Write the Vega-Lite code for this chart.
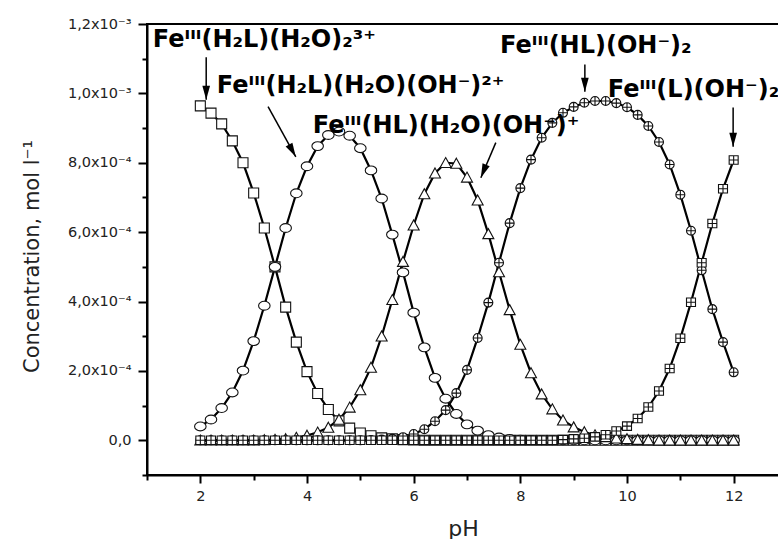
{
  "$schema": "https://vega.github.io/schema/vega-lite/v6.json",
  "width": 640,
  "height": 451,
  "autosize": {"type": "none"},
  "padding": {"left": 147, "top": 24, "right": 0, "bottom": 64},
  "background": "white",
  "config": {
    "view": {"stroke": "black", "strokeWidth": 2},
    "axis": {
      "grid": false,
      "domainColor": "black",
      "domainWidth": 2,
      "tickColor": "black",
      "tickWidth": 2,
      "labelFont": "DejaVu Sans",
      "labelFontSize": 14.5,
      "labelColor": "#222",
      "labelOverlap": false,
      "titleFont": "DejaVu Sans",
      "titleFontWeight": "normal",
      "titleColor": "#222"
    }
  },
  "datasets": {
    "conc": [
      {"pH": 2.0, "s": "A", "c": 9.64e-4}, {"pH": 2.2, "s": "A", "c": 9.43e-4}, {"pH": 2.4, "s": "A", "c": 9.12e-4},
      {"pH": 2.6, "s": "A", "c": 8.63e-4}, {"pH": 2.8, "s": "A", "c": 8.00e-4}, {"pH": 3.0, "s": "A", "c": 7.13e-4},
      {"pH": 3.2, "s": "A", "c": 6.12e-4}, {"pH": 3.4, "s": "A", "c": 5.00e-4}, {"pH": 3.6, "s": "A", "c": 3.84e-4},
      {"pH": 3.8, "s": "A", "c": 2.83e-4}, {"pH": 4.0, "s": "A", "c": 1.98e-4}, {"pH": 4.2, "s": "A", "c": 1.35e-4},
      {"pH": 4.4, "s": "A", "c": 0.89e-4}, {"pH": 4.6, "s": "A", "c": 0.56e-4}, {"pH": 4.8, "s": "A", "c": 0.35e-4},
      {"pH": 5.0, "s": "A", "c": 0.21e-4}, {"pH": 5.2, "s": "A", "c": 0.13e-4}, {"pH": 5.4, "s": "A", "c": 0.07e-4},
      {"pH": 5.6, "s": "A", "c": 0.04e-4}, {"pH": 5.8, "s": "A", "c": 0.02e-4}, {"pH": 6.0, "s": "A", "c": 0.01e-4},
      {"pH": 6.2, "s": "A", "c": 0}, {"pH": 6.4, "s": "A", "c": 0}, {"pH": 6.6, "s": "A", "c": 0},
      {"pH": 6.8, "s": "A", "c": 0}, {"pH": 7.0, "s": "A", "c": 0}, {"pH": 7.2, "s": "A", "c": 0},
      {"pH": 7.4, "s": "A", "c": 0}, {"pH": 7.6, "s": "A", "c": 0}, {"pH": 7.8, "s": "A", "c": 0},
      {"pH": 8.0, "s": "A", "c": 0}, {"pH": 8.2, "s": "A", "c": 0}, {"pH": 8.4, "s": "A", "c": 0},
      {"pH": 8.6, "s": "A", "c": 0}, {"pH": 8.8, "s": "A", "c": 0}, {"pH": 9.0, "s": "A", "c": 0},
      {"pH": 9.2, "s": "A", "c": 0}, {"pH": 9.4, "s": "A", "c": 0}, {"pH": 9.6, "s": "A", "c": 0},
      {"pH": 9.8, "s": "A", "c": 0}, {"pH": 10.0, "s": "A", "c": 0}, {"pH": 10.2, "s": "A", "c": 0},
      {"pH": 10.4, "s": "A", "c": 0}, {"pH": 10.6, "s": "A", "c": 0}, {"pH": 10.8, "s": "A", "c": 0},
      {"pH": 11.0, "s": "A", "c": 0}, {"pH": 11.2, "s": "A", "c": 0}, {"pH": 11.4, "s": "A", "c": 0},
      {"pH": 11.6, "s": "A", "c": 0}, {"pH": 11.8, "s": "A", "c": 0}, {"pH": 12.0, "s": "A", "c": 0},

      {"pH": 2.0, "s": "B", "c": 0.40e-4}, {"pH": 2.2, "s": "B", "c": 0.60e-4}, {"pH": 2.4, "s": "B", "c": 0.93e-4},
      {"pH": 2.6, "s": "B", "c": 1.38e-4}, {"pH": 2.8, "s": "B", "c": 2.01e-4}, {"pH": 3.0, "s": "B", "c": 2.86e-4},
      {"pH": 3.2, "s": "B", "c": 3.88e-4}, {"pH": 3.4, "s": "B", "c": 5.00e-4}, {"pH": 3.6, "s": "B", "c": 6.12e-4},
      {"pH": 3.8, "s": "B", "c": 7.12e-4}, {"pH": 4.0, "s": "B", "c": 7.90e-4}, {"pH": 4.2, "s": "B", "c": 8.48e-4},
      {"pH": 4.4, "s": "B", "c": 8.80e-4}, {"pH": 4.6, "s": "B", "c": 8.90e-4}, {"pH": 4.8, "s": "B", "c": 8.78e-4},
      {"pH": 5.0, "s": "B", "c": 8.42e-4}, {"pH": 5.2, "s": "B", "c": 7.78e-4}, {"pH": 5.4, "s": "B", "c": 6.97e-4},
      {"pH": 5.6, "s": "B", "c": 5.93e-4}, {"pH": 5.8, "s": "B", "c": 4.84e-4}, {"pH": 6.0, "s": "B", "c": 3.68e-4},
      {"pH": 6.2, "s": "B", "c": 2.68e-4}, {"pH": 6.4, "s": "B", "c": 1.80e-4}, {"pH": 6.6, "s": "B", "c": 1.20e-4},
      {"pH": 6.8, "s": "B", "c": 0.76e-4}, {"pH": 7.0, "s": "B", "c": 0.46e-4}, {"pH": 7.2, "s": "B", "c": 0.28e-4},
      {"pH": 7.4, "s": "B", "c": 0.15e-4}, {"pH": 7.6, "s": "B", "c": 0.08e-4}, {"pH": 7.8, "s": "B", "c": 0.04e-4},
      {"pH": 8.0, "s": "B", "c": 0.02e-4}, {"pH": 8.2, "s": "B", "c": 0.01e-4}, {"pH": 8.4, "s": "B", "c": 0},
      {"pH": 8.6, "s": "B", "c": 0}, {"pH": 8.8, "s": "B", "c": 0}, {"pH": 9.0, "s": "B", "c": 0},
      {"pH": 9.2, "s": "B", "c": 0}, {"pH": 9.4, "s": "B", "c": 0}, {"pH": 9.6, "s": "B", "c": 0},
      {"pH": 9.8, "s": "B", "c": 0}, {"pH": 10.0, "s": "B", "c": 0}, {"pH": 10.2, "s": "B", "c": 0},
      {"pH": 10.4, "s": "B", "c": 0}, {"pH": 10.6, "s": "B", "c": 0}, {"pH": 10.8, "s": "B", "c": 0},
      {"pH": 11.0, "s": "B", "c": 0}, {"pH": 11.2, "s": "B", "c": 0}, {"pH": 11.4, "s": "B", "c": 0},
      {"pH": 11.6, "s": "B", "c": 0}, {"pH": 11.8, "s": "B", "c": 0}, {"pH": 12.0, "s": "B", "c": 0},

      {"pH": 2.0, "s": "C", "c": 0}, {"pH": 2.2, "s": "C", "c": 0}, {"pH": 2.4, "s": "C", "c": 0},
      {"pH": 2.6, "s": "C", "c": 0}, {"pH": 2.8, "s": "C", "c": 0}, {"pH": 3.0, "s": "C", "c": 0},
      {"pH": 3.2, "s": "C", "c": 0.01e-4}, {"pH": 3.4, "s": "C", "c": 0.02e-4}, {"pH": 3.6, "s": "C", "c": 0.04e-4},
      {"pH": 3.8, "s": "C", "c": 0.08e-4}, {"pH": 4.0, "s": "C", "c": 0.14e-4}, {"pH": 4.2, "s": "C", "c": 0.23e-4},
      {"pH": 4.4, "s": "C", "c": 0.37e-4}, {"pH": 4.6, "s": "C", "c": 0.60e-4}, {"pH": 4.8, "s": "C", "c": 0.95e-4},
      {"pH": 5.0, "s": "C", "c": 1.45e-4}, {"pH": 5.2, "s": "C", "c": 2.10e-4}, {"pH": 5.4, "s": "C", "c": 3.00e-4},
      {"pH": 5.6, "s": "C", "c": 4.05e-4}, {"pH": 5.8, "s": "C", "c": 5.15e-4}, {"pH": 6.0, "s": "C", "c": 6.20e-4},
      {"pH": 6.2, "s": "C", "c": 7.10e-4}, {"pH": 6.4, "s": "C", "c": 7.70e-4}, {"pH": 6.6, "s": "C", "c": 8.00e-4},
      {"pH": 6.8, "s": "C", "c": 7.98e-4}, {"pH": 7.0, "s": "C", "c": 7.58e-4}, {"pH": 7.2, "s": "C", "c": 6.92e-4},
      {"pH": 7.4, "s": "C", "c": 5.95e-4}, {"pH": 7.6, "s": "C", "c": 4.85e-4}, {"pH": 7.8, "s": "C", "c": 3.76e-4},
      {"pH": 8.0, "s": "C", "c": 2.76e-4}, {"pH": 8.2, "s": "C", "c": 1.94e-4}, {"pH": 8.4, "s": "C", "c": 1.33e-4},
      {"pH": 8.6, "s": "C", "c": 0.90e-4}, {"pH": 8.8, "s": "C", "c": 0.58e-4}, {"pH": 9.0, "s": "C", "c": 0.38e-4},
      {"pH": 9.2, "s": "C", "c": 0.24e-4}, {"pH": 9.4, "s": "C", "c": 0.15e-4}, {"pH": 9.6, "s": "C", "c": 0.10e-4},
      {"pH": 9.8, "s": "C", "c": 0.06e-4}, {"pH": 10.0, "s": "C", "c": 0.04e-4}, {"pH": 10.2, "s": "C", "c": 0.02e-4},
      {"pH": 10.4, "s": "C", "c": 0.01e-4}, {"pH": 10.6, "s": "C", "c": 0}, {"pH": 10.8, "s": "C", "c": 0},
      {"pH": 11.0, "s": "C", "c": 0}, {"pH": 11.2, "s": "C", "c": 0}, {"pH": 11.4, "s": "C", "c": 0},
      {"pH": 11.6, "s": "C", "c": 0}, {"pH": 11.8, "s": "C", "c": 0}, {"pH": 12.0, "s": "C", "c": 0},

      {"pH": 2.0, "s": "D", "c": 0}, {"pH": 2.2, "s": "D", "c": 0}, {"pH": 2.4, "s": "D", "c": 0},
      {"pH": 2.6, "s": "D", "c": 0}, {"pH": 2.8, "s": "D", "c": 0}, {"pH": 3.0, "s": "D", "c": 0},
      {"pH": 3.2, "s": "D", "c": 0}, {"pH": 3.4, "s": "D", "c": 0}, {"pH": 3.6, "s": "D", "c": 0},
      {"pH": 3.8, "s": "D", "c": 0}, {"pH": 4.0, "s": "D", "c": 0}, {"pH": 4.2, "s": "D", "c": 0},
      {"pH": 4.4, "s": "D", "c": 0}, {"pH": 4.6, "s": "D", "c": 0}, {"pH": 4.8, "s": "D", "c": 0},
      {"pH": 5.0, "s": "D", "c": 0}, {"pH": 5.2, "s": "D", "c": 0.01e-4}, {"pH": 5.4, "s": "D", "c": 0.02e-4},
      {"pH": 5.6, "s": "D", "c": 0.04e-4}, {"pH": 5.8, "s": "D", "c": 0.09e-4}, {"pH": 6.0, "s": "D", "c": 0.18e-4},
      {"pH": 6.2, "s": "D", "c": 0.32e-4}, {"pH": 6.4, "s": "D", "c": 0.55e-4}, {"pH": 6.6, "s": "D", "c": 0.87e-4},
      {"pH": 6.8, "s": "D", "c": 1.36e-4}, {"pH": 7.0, "s": "D", "c": 2.03e-4}, {"pH": 7.2, "s": "D", "c": 2.95e-4},
      {"pH": 7.4, "s": "D", "c": 3.97e-4}, {"pH": 7.6, "s": "D", "c": 5.12e-4}, {"pH": 7.8, "s": "D", "c": 6.26e-4},
      {"pH": 8.0, "s": "D", "c": 7.27e-4}, {"pH": 8.2, "s": "D", "c": 8.09e-4}, {"pH": 8.4, "s": "D", "c": 8.72e-4},
      {"pH": 8.6, "s": "D", "c": 9.15e-4}, {"pH": 8.8, "s": "D", "c": 9.44e-4}, {"pH": 9.0, "s": "D", "c": 9.61e-4},
      {"pH": 9.2, "s": "D", "c": 9.73e-4}, {"pH": 9.4, "s": "D", "c": 9.78e-4}, {"pH": 9.6, "s": "D", "c": 9.78e-4},
      {"pH": 9.8, "s": "D", "c": 9.72e-4}, {"pH": 10.0, "s": "D", "c": 9.60e-4}, {"pH": 10.2, "s": "D", "c": 9.38e-4},
      {"pH": 10.4, "s": "D", "c": 9.06e-4}, {"pH": 10.6, "s": "D", "c": 8.60e-4}, {"pH": 10.8, "s": "D", "c": 7.95e-4},
      {"pH": 11.0, "s": "D", "c": 7.08e-4}, {"pH": 11.2, "s": "D", "c": 6.04e-4}, {"pH": 11.4, "s": "D", "c": 4.90e-4},
      {"pH": 11.6, "s": "D", "c": 3.78e-4}, {"pH": 11.8, "s": "D", "c": 2.83e-4}, {"pH": 12.0, "s": "D", "c": 1.96e-4},

      {"pH": 2.0, "s": "E", "c": 0}, {"pH": 2.2, "s": "E", "c": 0}, {"pH": 2.4, "s": "E", "c": 0},
      {"pH": 2.6, "s": "E", "c": 0}, {"pH": 2.8, "s": "E", "c": 0}, {"pH": 3.0, "s": "E", "c": 0},
      {"pH": 3.2, "s": "E", "c": 0}, {"pH": 3.4, "s": "E", "c": 0}, {"pH": 3.6, "s": "E", "c": 0},
      {"pH": 3.8, "s": "E", "c": 0}, {"pH": 4.0, "s": "E", "c": 0}, {"pH": 4.2, "s": "E", "c": 0},
      {"pH": 4.4, "s": "E", "c": 0}, {"pH": 4.6, "s": "E", "c": 0}, {"pH": 4.8, "s": "E", "c": 0},
      {"pH": 5.0, "s": "E", "c": 0}, {"pH": 5.2, "s": "E", "c": 0}, {"pH": 5.4, "s": "E", "c": 0},
      {"pH": 5.6, "s": "E", "c": 0}, {"pH": 5.8, "s": "E", "c": 0}, {"pH": 6.0, "s": "E", "c": 0},
      {"pH": 6.2, "s": "E", "c": 0}, {"pH": 6.4, "s": "E", "c": 0}, {"pH": 6.6, "s": "E", "c": 0},
      {"pH": 6.8, "s": "E", "c": 0}, {"pH": 7.0, "s": "E", "c": 0}, {"pH": 7.2, "s": "E", "c": 0},
      {"pH": 7.4, "s": "E", "c": 0}, {"pH": 7.6, "s": "E", "c": 0}, {"pH": 7.8, "s": "E", "c": 0},
      {"pH": 8.0, "s": "E", "c": 0}, {"pH": 8.2, "s": "E", "c": 0}, {"pH": 8.4, "s": "E", "c": 0},
      {"pH": 8.6, "s": "E", "c": 0}, {"pH": 8.8, "s": "E", "c": 0.02e-4}, {"pH": 9.0, "s": "E", "c": 0.04e-4},
      {"pH": 9.2, "s": "E", "c": 0.06e-4}, {"pH": 9.4, "s": "E", "c": 0.10e-4}, {"pH": 9.6, "s": "E", "c": 0.16e-4},
      {"pH": 9.8, "s": "E", "c": 0.27e-4}, {"pH": 10.0, "s": "E", "c": 0.41e-4}, {"pH": 10.2, "s": "E", "c": 0.63e-4},
      {"pH": 10.4, "s": "E", "c": 0.96e-4}, {"pH": 10.6, "s": "E", "c": 1.42e-4}, {"pH": 10.8, "s": "E", "c": 2.07e-4},
      {"pH": 11.0, "s": "E", "c": 2.94e-4}, {"pH": 11.2, "s": "E", "c": 3.98e-4}, {"pH": 11.4, "s": "E", "c": 5.12e-4},
      {"pH": 11.6, "s": "E", "c": 6.25e-4}, {"pH": 11.8, "s": "E", "c": 7.25e-4}, {"pH": 12.0, "s": "E", "c": 8.08e-4}
    ],
    "arrows": [
      {"n": 1, "x1": 2.11, "y1": 1.104e-3, "x2": 2.11, "y2": 9.82e-4},
      {"n": 2, "x1": 3.27, "y1": 9.62e-4, "x2": 3.79, "y2": 8.17e-4},
      {"n": 3, "x1": 7.54, "y1": 8.58e-4, "x2": 7.26, "y2": 7.57e-4},
      {"n": 4, "x1": 9.21, "y1": 1.083e-3, "x2": 9.21, "y2": 1.005e-3},
      {"n": 5, "x1": 11.99, "y1": 9.59e-4, "x2": 11.99, "y2": 8.46e-4}
    ],
    "labels": [
      {"t": "Feᴵᴵᴵ(H₂L)(H₂O)₂³⁺", "x": 1.11, "y": 1.134e-3},
      {"t": "Feᴵᴵᴵ(H₂L)(H₂O)(OH⁻)²⁺", "x": 2.31, "y": 1.0e-3},
      {"t": "Feᴵᴵᴵ(HL)(H₂O)(OH⁻)⁺", "x": 4.11, "y": 8.87e-4},
      {"t": "Feᴵᴵᴵ(HL)(OH⁻)₂", "x": 7.62, "y": 1.117e-3},
      {"t": "Feᴵᴵᴵ(L)(OH⁻)₂", "x": 9.64, "y": 9.9e-4}
    ]
  },
  "layer": [
    {
      "data": {"name": "conc"},
      "mark": {"type": "line", "color": "black", "strokeWidth": 2.2},
      "encoding": {
        "x": {
          "field": "pH", "type": "quantitative", "title": "pH",
          "scale": {"domain": [1, 13], "nice": false, "zero": false},
          "axis": {
            "values": [1, 2, 3, 4, 5, 6, 7, 8, 9, 10, 11, 12, 13],
            "tickCount": 50,
            "labelExpr": "datum.value % 2 == 0 ? datum.value : ''",
            "tickSize": {"condition": {"test": "datum.value % 2 == 0", "value": 8}, "value": 5},
            "labelPadding": 6,
            "labelFontSize": 14.5,
            "titleFontSize": 22,
            "titleX": 316,
            "titleY": 60,
            "titleBaseline": "alphabetic",
            "titleAlign": "center"
          }
        },
        "y": {
          "field": "c", "type": "quantitative", "title": "Concentration, mol l⁻¹",
          "scale": {"domain": [-0.0001, 0.0012], "nice": false, "zero": false},
          "axis": {
            "values": [-0.0001, 0, 0.0001, 0.0002, 0.0003, 0.0004, 0.0005, 0.0006, 0.0007, 0.0008, 0.0009, 0.001, 0.0011, 0.0012],
            "tickCount": 50,
            "labelExpr": "datum.value > 0.00115 ? '1,2x10⁻³' : (datum.value > 0.00095 && datum.value < 0.00105) ? '1,0x10⁻³' : (datum.value > 0.00075 && datum.value < 0.00085) ? '8,0x10⁻⁴' : (datum.value > 0.00055 && datum.value < 0.00065) ? '6,0x10⁻⁴' : (datum.value > 0.00035 && datum.value < 0.00045) ? '4,0x10⁻⁴' : (datum.value > 0.00015 && datum.value < 0.00025) ? '2,0x10⁻⁴' : (datum.value > -0.00005 && datum.value < 0.00005) ? '0,0' : ''",
            "tickSize": {"condition": {"test": "(datum.value * 10000 + 10.5) % 2 < 1", "value": 9}, "value": 5},
            "labelPadding": 7,
            "titleFontSize": 21,
            "titleAngle": -90,
            "titleX": -115,
            "titleY": 232,
            "titleAlign": "center",
            "titleBaseline": "middle"
          }
        },
        "detail": {"field": "s"}
      }
    },
    {
      "data": {"name": "conc"},
      "mark": {"type": "point", "filled": true, "fill": "white", "stroke": "#111", "strokeWidth": 1.1, "opacity": 1, "size": 100},
      "encoding": {
        "x": {"field": "pH", "type": "quantitative", "title": "pH", "scale": {"domain": [1, 13], "nice": false, "zero": false}},
        "y": {"field": "c", "type": "quantitative", "title": "Concentration, mol l⁻¹", "scale": {"domain": [-0.0001, 0.0012], "nice": false, "zero": false}},
        "shape": {
          "field": "s", "type": "nominal", "legend": null,
          "scale": {
            "domain": ["A", "B", "C", "D", "E"],
            "range": [
              "M-1,-1H1V1H-1Z",
              "M-1.15,0A1.15,0.88 0 1,0 1.15,0A1.15,0.88 0 1,0 -1.15,0Z",
              "M0,-1.05L1.1,0.95L-1.1,0.95Z",
              "M-0.9,0A0.9,0.9 0 1,0 0.9,0A0.9,0.9 0 1,0 -0.9,0Z M-0.9,0H0.9 M0,-0.9V0.9",
              "M-0.9,-0.85H0.9V0.85H-0.9Z M-0.9,0H0.9 M0,-0.85V0.85"
            ]
          }
        }
      }
    },
    {
      "data": {"name": "arrows"},
      "mark": {"type": "rule", "color": "black", "strokeWidth": 1.5},
      "encoding": {
        "x": {"field": "x1", "type": "quantitative", "title": "pH", "scale": {"domain": [1, 13], "nice": false, "zero": false}},
        "x2": {"field": "x2"},
        "y": {"field": "y1", "type": "quantitative", "title": "Concentration, mol l⁻¹", "scale": {"domain": [-0.0001, 0.0012], "nice": false, "zero": false}},
        "y2": {"field": "y2"}
      }
    },
    {
      "data": {"name": "arrows"},
      "mark": {"type": "point", "filled": true, "color": "black", "opacity": 1, "size": 196, "shape": "M0,0L-0.55,-2L0.55,-2Z"},
      "encoding": {
        "x": {"field": "x2", "type": "quantitative", "title": "pH", "scale": {"domain": [1, 13], "nice": false, "zero": false}},
        "y": {"field": "y2", "type": "quantitative", "title": "Concentration, mol l⁻¹", "scale": {"domain": [-0.0001, 0.0012], "nice": false, "zero": false}},
        "angle": {"condition": [{"test": "datum.n == 2", "value": -29}, {"test": "datum.n == 3", "value": 22}], "value": 0}
      }
    },
    {
      "data": {"name": "labels"},
      "mark": {"type": "text", "align": "left", "baseline": "alphabetic", "font": "DejaVu Sans", "fontWeight": "bold", "fontSize": 24, "color": "black"},
      "encoding": {
        "x": {"field": "x", "type": "quantitative", "title": "pH", "scale": {"domain": [1, 13], "nice": false, "zero": false}},
        "y": {"field": "y", "type": "quantitative", "title": "Concentration, mol l⁻¹", "scale": {"domain": [-0.0001, 0.0012], "nice": false, "zero": false}},
        "text": {"field": "t"}
      }
    }
  ]
}
